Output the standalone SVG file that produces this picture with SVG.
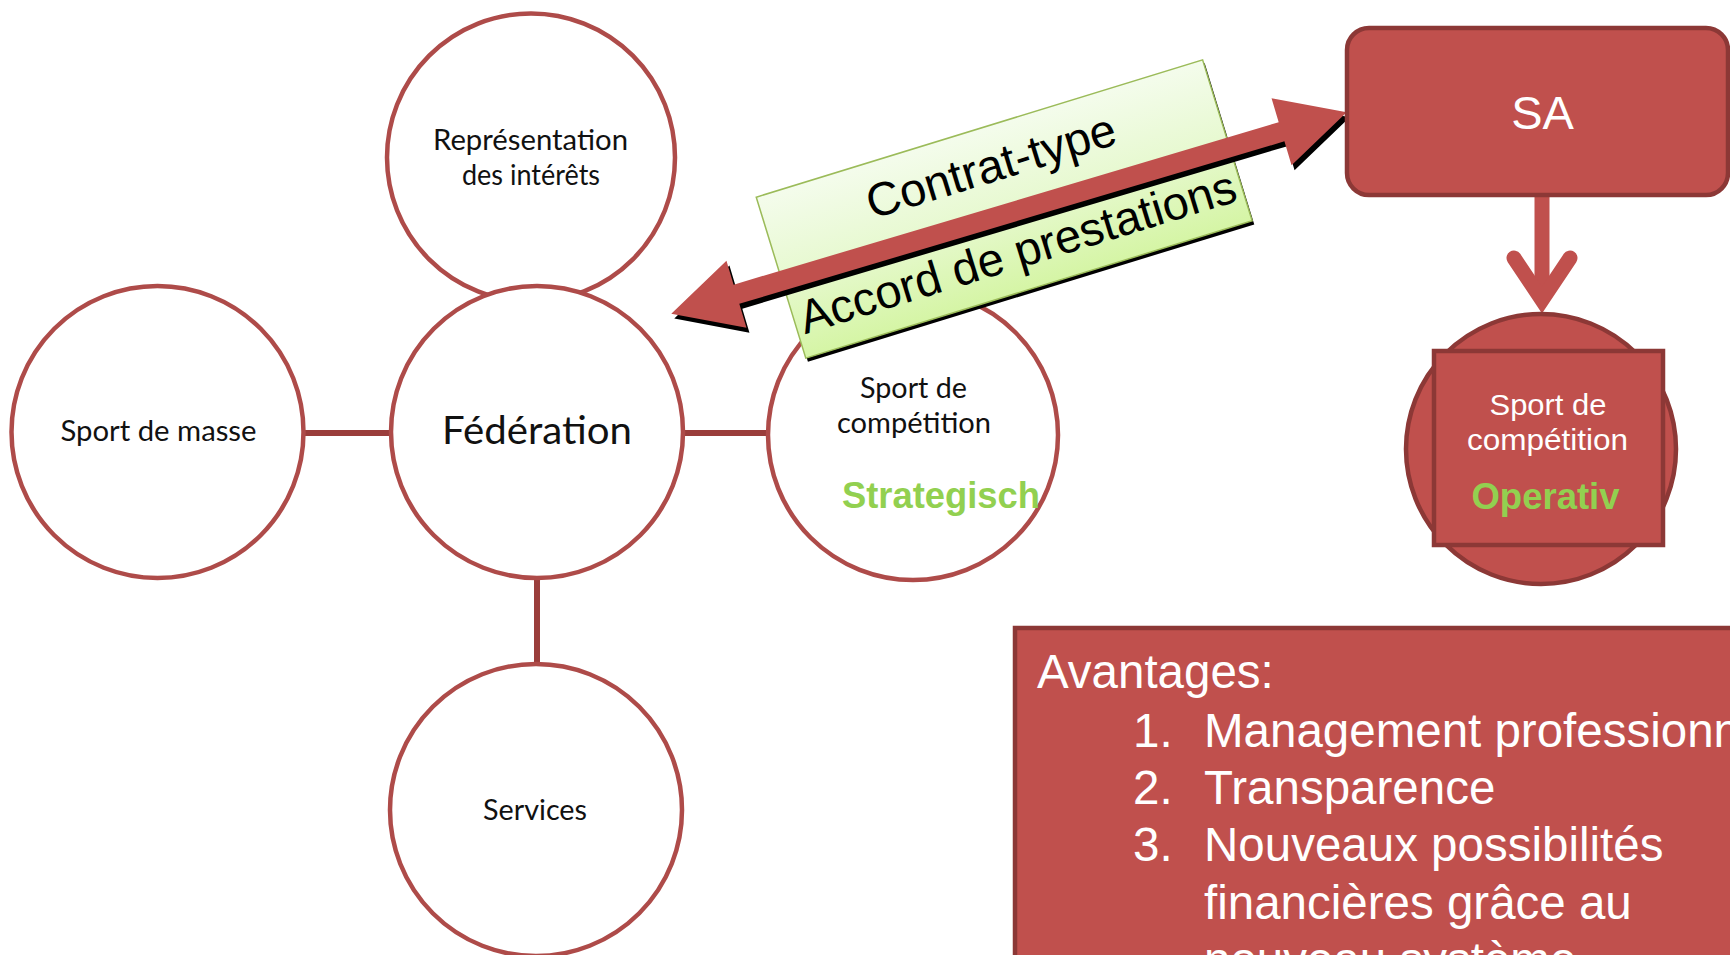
<svg xmlns="http://www.w3.org/2000/svg" width="1730" height="955" viewBox="0 0 1730 955">
<style>
.circ{fill:#ffffff;stroke:#ae4b49;stroke-width:4.5}
.lbl{font-family:Lato,"Open Sans","Noto Sans",sans-serif;font-size:28px;fill:#111111;text-anchor:middle}
.conn{stroke:#9a3d3b;stroke-width:6;fill:none}
.red{fill:#c0504d;stroke:#8c3836;stroke-width:4.5}
.wt{font-family:"Liberation Sans",Arial,sans-serif;fill:#ffffff}
.green{font-family:"Liberation Sans",Arial,sans-serif;font-weight:bold;font-size:36px;fill:#92d050;text-anchor:middle}
.bt{font-family:"Liberation Sans",Arial,sans-serif;font-size:47px;fill:#000000;text-anchor:middle}
.av{font-family:"Liberation Sans",Arial,sans-serif;font-size:47.5px;fill:#ffffff}
</style>
<defs>
<linearGradient id="gg" x1="0" y1="0" x2="0" y2="1">
<stop offset="0" stop-color="#f4fcec"/>
<stop offset="0.5" stop-color="#e7f9d0"/>
<stop offset="1" stop-color="#d5f5a5"/>
</linearGradient>
</defs>
<rect width="1730" height="955" fill="#ffffff"/>

<g id="connectors-lines">
<line class="conn" x1="304" y1="433" x2="391" y2="433"/>
<line class="conn" x1="683" y1="433" x2="768" y2="433"/>
<line class="conn" x1="537" y1="578" x2="537" y2="665"/>
</g>

<g id="node-representation">
<circle class="circ" cx="531" cy="157.5" r="144"/>
<text class="lbl" x="530.5" y="150" textLength="195" lengthAdjust="spacingAndGlyphs">Représentation</text>
<text class="lbl" x="531" y="185" textLength="138" lengthAdjust="spacingAndGlyphs">des intérêts</text>
</g>

<g id="node-masse">
<circle class="circ" cx="157.5" cy="432" r="146"/>
<text class="lbl" x="158.5" y="441" textLength="196" lengthAdjust="spacingAndGlyphs">Sport de masse</text>
</g>

<g id="node-federation">
<circle class="circ" cx="537" cy="432" r="146"/>
<text class="lbl" x="537" y="444" style="font-size:38px" textLength="190" lengthAdjust="spacingAndGlyphs">Fédération</text>
</g>

<g id="node-services">
<circle class="circ" cx="536" cy="810" r="146"/>
<text class="lbl" x="535" y="820" textLength="104" lengthAdjust="spacingAndGlyphs">Services</text>
</g>

<g id="node-competition-strat">
<circle class="circ" cx="913" cy="435" r="145"/>
<text class="lbl" x="913.5" y="398" textLength="107" lengthAdjust="spacingAndGlyphs">Sport de</text>
<text class="lbl" x="914" y="433" textLength="154" lengthAdjust="spacingAndGlyphs">compétition</text>
<text class="green" x="941" y="508" textLength="198" lengthAdjust="spacingAndGlyphs">Strategisch</text>
</g>

<g id="label-contrat" transform="translate(1004.2 209) rotate(-17.1)">
<rect x="-232.5" y="-80.25" width="467" height="168.5" fill="#000000"/>
<rect x="-233.5" y="-84.25" width="467" height="168.5" fill="url(#gg)" stroke="#9bbb59" stroke-width="1.5"/>
<text class="bt" x="0" y="-29">Contrat-type</text>
<text class="bt" x="0" y="61">Accord de prestations</text>
</g>

<g id="connectors">
<g transform="translate(1009 213) rotate(-16.6)">
<polygon transform="translate(1.5 5.5)" fill="#000000" points="-352.4,0 -284.4,-35 -284.4,-10 284.4,-10 284.4,-35 352.4,0 284.4,35 284.4,10 -284.4,10 -284.4,35"/>
<polygon fill="#c0504d" points="-352.4,0 -284.4,-35 -284.4,-10 284.4,-10 284.4,-35 352.4,0 284.4,35 284.4,10 -284.4,10 -284.4,35"/>
</g>
<line x1="1542" y1="195" x2="1542" y2="300" stroke="#c0504d" stroke-width="15"/>
<polyline points="1514,258 1542,300 1570,258" fill="none" stroke="#c0504d" stroke-width="15" stroke-linecap="round" stroke-linejoin="miter"/>
</g>

<g id="node-sa">
<rect class="red" x="1347" y="28" width="381" height="167" rx="22"/>
<text class="wt" x="1542.5" y="129.4" font-size="47" text-anchor="middle">SA</text>
</g>

<g id="node-competition-op">
<circle class="red" cx="1541" cy="449" r="135"/>
<rect class="red" x="1434" y="351" width="229" height="194"/>
<text class="wt" x="1548" y="415" font-size="30" text-anchor="middle" textLength="117" lengthAdjust="spacingAndGlyphs">Sport de</text>
<text class="wt" x="1547.5" y="450" font-size="30" text-anchor="middle" textLength="161" lengthAdjust="spacingAndGlyphs">compétition</text>
<text class="green" x="1545.5" y="509" textLength="148" lengthAdjust="spacingAndGlyphs">Operativ</text>
</g>

<g id="node-avantages">
<rect class="red" x="1015" y="628" width="800" height="400"/>
<text class="av" x="1037" y="688">Avantages:</text>
<text class="av" x="1133" y="746.5">1.</text>
<text class="av" x="1204" y="746.5">Management professionnel</text>
<text class="av" x="1133" y="803.5">2.</text>
<text class="av" x="1204" y="803.5">Transparence</text>
<text class="av" x="1133" y="861">3.</text>
<text class="av" x="1204" y="861">Nouveaux possibilités</text>
<text class="av" x="1204" y="918.5">financières grâce au</text>
<text class="av" x="1204" y="976">nouveau système</text>
</g>
</svg>
